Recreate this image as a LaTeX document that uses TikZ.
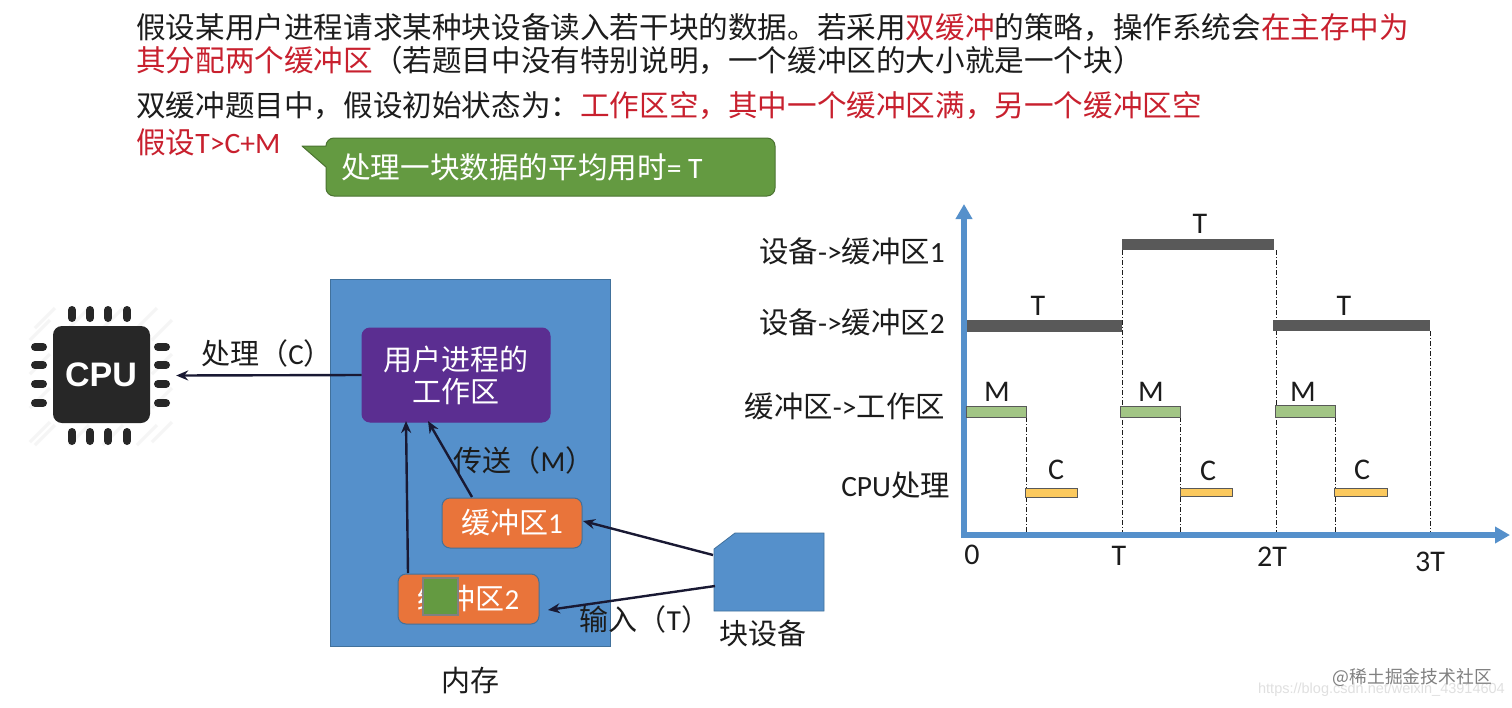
\documentclass[tikz,border=0pt]{standalone}
\usepackage{fontspec}
\setmainfont{Noto Sans CJK SC}
\newfontfamily\lat{Carlito}
\newfontfamily\heavy{Liberation Sans}
\newcommand\La[1]{{\lat #1}}
\newcommand\Fs[1]{\fontsize{#1}{#1}\selectfont}
\usetikzlibrary{arrows.meta}
\definecolor{memblue}{HTML}{5590CB}
\definecolor{edgeblue}{HTML}{41719C}
\definecolor{purp}{HTML}{5B2E91}
\definecolor{orng}{HTML}{E9743A}
\definecolor{grn}{HTML}{649A41}
\definecolor{redt}{HTML}{C8202E}
\definecolor{ink}{HTML}{1C1C1C}
\definecolor{dark}{HTML}{595959}
\definecolor{mbar}{HTML}{A2C585}
\definecolor{cbar}{HTML}{FBC95E}
\tikzset{
  para/.style={anchor=base west,inner sep=0pt,text=ink,font=\Fs{29.6}},
  lab/.style={inner sep=0pt,text=ink,font=\Fs{29}},
  wlab/.style={inner sep=0pt,text=white,font=\Fs{29},align=center},
  tick/.style={inner sep=0pt,text=ink,font=\lat\Fs{30}},
  rowlab/.style={anchor=east,inner sep=0pt,text=ink,font=\Fs{29.4}},
  conn/.style={draw=ink!90!blue,line width=2.4pt,-{Stealth[length=12pt,width=10pt]}},
  box/.style={rounded corners=8pt,draw=edgeblue,line width=1pt,inner sep=0pt},
  ttbar/.style={fill=dark,draw=none},
  mmbar/.style={fill=mbar,draw=dark,line width=.9pt},
  ccbar/.style={fill=cbar,draw=dark,line width=.9pt},
  guide/.style={draw=ink,line width=1pt,dash pattern=on 5pt off 2pt on 1pt off 2pt},
  axis/.style={draw=memblue,line width=6pt,-{Triangle[length=15pt,width=16pt]}},
  pin/.style={draw=ink!95,line width=8pt,line cap=round},
  hatch/.style={draw=black!4,line width=3pt}
}
\begin{document}
\begin{tikzpicture}[x=1pt,y=-1pt]
\useasboundingbox (0,0) rectangle (1512,707);
\fill[white] (0,0) rectangle (1512,707);

% paragraph
\node[para] (l1) at (136,38) {假设某用户进程请求某种块设备读入若干块的数据。若采用\textcolor{redt}{双缓冲}的策略，操作系统会\textcolor{redt}{在主存中为}};
\node[para] (l2) at (136,71) {\textcolor{redt}{其分配两个缓冲区}（若题目中没有特别说明，一个缓冲区的大小就是一个块）};
\node[para] (l3) at (136,116) {双缓冲题目中，假设初始状态为：\textcolor{redt}{工作区空，其中一个缓冲区满，另一个缓冲区空}};
\node[para,text=redt] (l4) at (136,153) {假设\La{T>C+M}};

% callout
\draw[fill=grn,draw=grn!75!black,line width=1pt,line join=round]
  (334,138) -- (767,138) arc[start angle=90,end angle=0,radius=8pt] -- (775,188)
  arc[start angle=0,end angle=-90,radius=8pt] -- (334,196) arc[start angle=270,end angle=180,radius=8pt]
  -- (326,167) -- (302,146) -- (326,146) arc[start angle=180,end angle=90,radius=8pt] -- cycle;
\node[lab,text=white,anchor=west,font=\Fs{29.6}] (tip) at (341,167) {处理一块数据的平均用时\La{= T}};

% CPU icon
\foreach \a in {0,34,68,102}{
  \draw[hatch] (30,{340+\a}) -- ({50},{320+\a});
  \draw[hatch] (152,{340+\a}) -- ({172},{320+\a});
}
\foreach \a in {0,34,68,102}{
  \draw[hatch] ({35+\a},328) -- ({55+\a},308);
  \draw[hatch] ({35+\a},445) -- ({55+\a},425);
}
\foreach \p in {72,90,108,127}{
  \draw[pin] (\p,310) -- (\p,318);
  \draw[pin] (\p,432) -- (\p,441);
}
\foreach \p in {347,365,384,403}{
  \draw[pin] (35,\p) -- (43,\p);
  \draw[pin] (158,\p) -- (166,\p);
}
\fill[ink!95,rounded corners=9pt] (53,326) rectangle (150,423);
\node[inner sep=0pt,text=white,font=\heavy\bfseries\Fs{34}] at (101,375) {CPU};
\node[minimum width=139pt,minimum height=139pt,inner sep=0pt] (cpu) at (100.5,375.5) {};

% memory
\node[fill=memblue,draw=edgeblue,line width=1pt,minimum width=280pt,minimum height=367pt,inner sep=0pt] (mem) at (470,462.5) {};
\node[lab] (memlab) at (470,680) {内存};
\node[box,fill=purp,draw=purp,minimum width=188pt,minimum height=94pt,wlab] (work) at (456,375) {用户进程的\\[3pt]工作区};
\node[box,fill=orng,minimum width=140pt,minimum height=50pt,wlab] (b1) at (512,523) {缓冲区\La{1}};
\node[box,fill=orng,minimum width=141pt,minimum height=50pt,wlab] (b2) at (468.5,599) {缓冲区\La{2}};
\node[fill=grn,draw=black!50,line width=1.2pt,minimum width=35pt,minimum height=37pt,inner sep=0pt] (sq) at (440.5,596.5) {};

% device
\fill[memblue] (714,549) -- (735,533) -- (824,533) -- (824,611) -- (714,611) -- cycle;
\draw[edgeblue,line width=.8pt] (714,549) -- (735,533) -- (824,533) -- (824,611) -- (714,611) -- cycle;
\node[minimum width=110pt,minimum height=78pt,inner sep=0pt] (dev) at (769,572) {};
\node[lab] (devlab) at (763,633) {块设备};

% connector ends
\coordinate (devA) at (713,555);
\coordinate (devB) at (715,586);
\coordinate (b1top) at (472,497);
\coordinate (b2top) at (408,573);
\coordinate (workA) at (428,421);
\coordinate (workB) at (406,421);
\coordinate (b2end) at (548,610);
\coordinate (b1end) at (583,521);

\draw[conn] (work.west) -- ([xshift=6pt]cpu.east);
\draw[conn] (b1top) -- (workA);
\draw[conn] (b2top) -- (workB);
\draw[conn] (devA) -- (b1end);
\draw[conn] (devB) -- (b2end);

\node[lab] (proc) at (267,353) {处理（\La{C}）};
\node[lab] (send) at (524,460) {传送（\La{M}）};
\node[lab] (inp) at (645,619) {输入（\La{T}）};

% chart
\node[rowlab] (r1) at (945,251) {设备\La{->}缓冲区\La{1}};
\node[rowlab] (r2) at (945,322) {设备\La{->}缓冲区\La{2}};
\node[rowlab] (r3) at (945,406) {缓冲区\La{->}工作区};
\node[rowlab] (r4) at (950,485) {\La{CPU}处理};

\coordinate (ax0) at (964,535);
\coordinate (axtop) at (964,204);
\coordinate (axright) at (1510,535);

\foreach \x/\t in {1122/250,1276/250,1430/331,1026/417,1180/417,1335/417}{
  \draw[guide] (\x,\t) -- (\x,535);
}
\draw[axis] (964,538) -- (axtop);
\draw[axis] (961,535) -- (axright);

\fill[ttbar] (1122,239) rectangle (1274,250);
\fill[ttbar] (967,320) rectangle (1122,332);
\fill[ttbar] (1273,320) rectangle (1430,331);

\draw[mmbar] (966,406) rectangle (1026,417);
\draw[mmbar] (1120,406) rectangle (1180,417);
\draw[mmbar] (1275,405) rectangle (1335,417);
\draw[ccbar] (1025,488) rectangle (1077,497);
\draw[ccbar] (1180,488) rectangle (1232,496);
\draw[ccbar] (1334,488) rectangle (1387,496);

\node[tick] (t1) at (1200,224) {T};
\node[tick] (t2) at (1038,306) {T};
\node[tick] (t3) at (1344,306) {T};
\node[tick] (m1) at (997,392) {M};
\node[tick] (m2) at (1151,392) {M};
\node[tick] (m3) at (1303,392) {M};
\node[tick] (c1) at (1056,470) {C};
\node[tick] (c2) at (1208,471) {C};
\node[tick] (c3) at (1362,470) {C};
\node[tick] (x0) at (972,555) {0};
\node[tick] (x1) at (1119,556) {T};
\node[tick] (x2) at (1272,557) {2T};
\node[tick] (x3) at (1430,562) {3T};

% watermarks
\node[inner sep=0pt,anchor=east,text=black!12,font=\heavy\Fs{14.5}] (wm2) at (1505,690) {https://blog.csdn.net/weixin\_43914604};
\node[inner sep=0pt,anchor=east,text=black!50,font=\Fs{17.8}] (wm1) at (1492,677) {@稀土掘金技术社区};
\end{tikzpicture}
\end{document}
